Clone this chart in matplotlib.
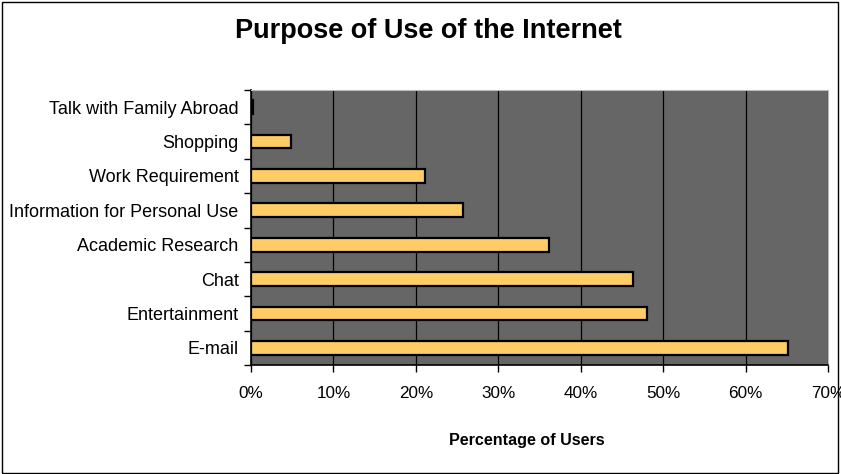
import matplotlib.pyplot as plt
from matplotlib.patches import Rectangle
from matplotlib.ticker import FixedLocator, PercentFormatter

plt.rcParams['font.family'] = ['Liberation Sans', 'DejaVu Sans']

purposes = ["E-mail", "Entertainment", "Chat", "Academic Research",
            "Information for Personal Use", "Work Requirement", "Shopping",
            "Talk with Family Abroad"]
share = [65.2, 48.0, 46.4, 36.1, 25.7, 21.1, 4.8, 0.3]

fig = plt.figure(figsize=(8.41, 4.74), dpi=100)
ax = fig.add_axes([251 / 841, 1 - 365 / 474, 577 / 841, 275 / 474])
ax.set_facecolor("#666666")

pos = list(range(len(purposes)))
ax.barh(pos, share, height=0.4, color="#FFCC66", edgecolor="black",
        linewidth=1.6, zorder=3)

ax.set_xlim(0, 70)
ax.set_ylim(-0.5, len(purposes) - 0.5)
ax.set_xticks(range(0, 71, 10))
ax.xaxis.set_major_formatter(PercentFormatter(decimals=0))
ax.grid(axis="x", color="black", linewidth=0.9, zorder=1)

# category boundaries get the tick marks, names sit between them
ax.yaxis.set_major_locator(FixedLocator([p - 0.5 for p in pos] + [len(pos) - 0.5]))
ax.yaxis.set_major_formatter(plt.NullFormatter())
ax.yaxis.set_minor_locator(FixedLocator(pos))
ax.set_yticklabels(purposes, minor=True)
ax.tick_params(axis="y", which="minor", length=0, pad=9, labelsize=13)
ax.tick_params(axis="y", which="major", length=5, width=1, direction="out")
ax.tick_params(axis="x", length=5, width=1, direction="out", pad=10,
               labelsize=12.3)

for side in ("top", "right"):
    ax.spines[side].set_color("#BBBBBB")
for side in ("left", "bottom"):
    ax.spines[side].set_color("black")
    ax.spines[side].set_linewidth(1.2)

fig.text(428 / 841, 1 - 31 / 474, "Purpose of Use of the Internet",
         ha="center", va="center", fontsize=19.5, fontweight="bold")
fig.text(527 / 841, 1 - 441 / 474, "Percentage of Users",
         ha="center", va="center", fontsize=11.6, fontweight="bold")

# outer chart frame
fig.patches.append(Rectangle((0.002, 0.003), 0.995, 0.993, fill=False,
                             edgecolor="black", linewidth=1,
                             transform=fig.transFigure))

fig.savefig("out.png", dpi=100)
